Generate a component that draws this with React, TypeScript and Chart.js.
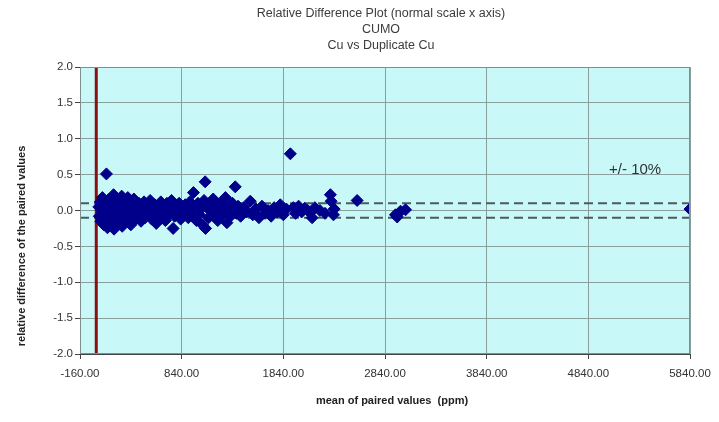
import React, { useEffect, useRef } from "react";
import { Chart, registerables } from "chart.js";

Chart.register(...registerables);

const FONT = "'Liberation Sans', Arial, sans-serif";

const titleLines = [
  "Relative Difference Plot (normal scale x axis)",
  "CUMO",
  "Cu vs Duplicate Cu",
];
const xAxisTitle = "mean of paired values  (ppm)";
const yAxisTitle = "relative difference of the paired values";
const toleranceLabel = "+/- 10%";

const xTickValues = [-160, 840, 1840, 2840, 3840, 4840, 5840];
const yTickValues = [-2, -1.5, -1, -0.5, 0, 0.5, 1, 1.5, 2];
const tolerance = 0.1;

// mean of the two assays for each pair (ppm)
const meanValues = [
  25, 30, 40, 45, 55, 60, 70, 75, 85, 90, 100, 105, 110, 120, 125, 135, 140, 150,
  160, 170, 175, 185, 190, 200, 210, 215, 225, 235, 240, 250, 255, 265, 275, 280,
  290, 300, 310, 320, 330, 340, 350, 360, 370, 380, 395,
  410, 420, 440, 455, 470, 480, 500, 515, 530, 545, 560, 575, 590, 605, 620, 635,
  650, 665, 680, 695, 710, 725, 740, 756, 770, 785, 800, 815, 830, 845, 860, 875,
  890, 905, 920, 940, 956, 970, 985,
  1000, 1015, 1030, 1045, 1060, 1071, 1075, 1090, 1105, 1120, 1135, 1150, 1165,
  1180, 1195, 1210, 1225, 1240, 1255, 1270, 1285, 1300, 1320, 1340, 1367, 1380, 1395,
  1420, 1450, 1480, 1515, 1540, 1570, 1600, 1630, 1660, 1690, 1720, 1750, 1780,
  1810, 1840, 1870, 1909, 1938, 1960, 1990, 2020, 2050, 2080, 2106, 2123,
  2150, 2200, 2250, 2303, 2310, 2333, 2340, 2566, 2943, 2960, 2993, 3042, 5840,
];

// (original - duplicate) / mean for each pair
const relativeDiffs = [
  0.05, -0.08, 0.12, -0.15, 0.0, 0.18, -0.05, -0.2, 0.08, -0.12, 0.51, 0.02, -0.24, 0.15, -0.08, 0.05, -0.18, 0.1,
  -0.02, 0.22, -0.26, 0.06, -0.12, 0.16, -0.04, -0.2, 0.1, 0.0, -0.14, 0.2, -0.22, 0.04, -0.08, 0.14,
  -0.16, 0.02, 0.18, -0.1, 0.08, -0.2, 0.12, -0.04, 0.16, -0.12, 0.06,
  -0.06, 0.1, -0.15, 0.02, 0.12, -0.1, 0.06, -0.04, 0.14, -0.12, 0.0, 0.08, -0.18, 0.04, -0.08, 0.12,
  -0.02, 0.06, -0.14, 0.1, -0.06, 0.02, 0.14, -0.25, -0.08, 0.06, -0.02, 0.1, -0.12, 0.04, -0.06, 0.08,
  0.0, -0.1, 0.12, -0.04, 0.25, 0.06, -0.14,
  0.1, -0.06, 0.02, -0.2, 0.14, 0.4, -0.25, 0.04, -0.1, 0.08, -0.02, 0.16, -0.08,
  0.06, -0.14, 0.0, 0.1, -0.06, 0.04, 0.18, -0.17, 0.02, -0.08, 0.1, 0.33, -0.04, 0.06,
  -0.08, 0.04, -0.02, 0.13, -0.06, 0.02, -0.1, 0.06, -0.04, 0.0, -0.08, 0.04, -0.02,
  0.08, -0.06, 0.02, 0.79, 0.04, -0.04, 0.06, -0.02, 0.03, 0.0, -0.03, -0.1,
  0.04, 0.0, -0.04, 0.22, 0.13, -0.06, 0.02, 0.14, -0.06, -0.09, -0.01, 0.01, 0.02,
];

const plotBackground = {
  id: "plotBackground",
  beforeDraw(chart: any) {
    const { ctx, chartArea: a } = chart;
    ctx.save();
    ctx.fillStyle = "#c8f8f8";
    ctx.fillRect(a.left, a.top, a.right - a.left, a.bottom - a.top);
    ctx.restore();
  },
  afterDraw(chart: any) {
    const { ctx, chartArea: a } = chart;
    ctx.save();
    ctx.strokeStyle = "#7f8f8f";
    ctx.lineWidth = 1;
    ctx.strokeRect(a.left + 0.5, a.top + 0.5, a.right - a.left - 1, a.bottom - a.top - 1);
    ctx.restore();
  },
};

const captions = {
  id: "captions",
  afterDraw(chart: any) {
    const { ctx, scales } = chart;
    ctx.save();
    ctx.fillStyle = "#3c3c3c";
    ctx.textAlign = "center";
    ctx.textBaseline = "middle";
    ctx.font = `12.5px ${FONT}`;
    titleLines.forEach((line, i) => ctx.fillText(line, 381, 14 + i * 16));

    ctx.fillStyle = "#222";
    ctx.font = `bold 11px ${FONT}`;
    ctx.fillText(xAxisTitle, 392, 401);

    ctx.save();
    ctx.translate(22, 246);
    ctx.rotate(-Math.PI / 2);
    ctx.fillText(yAxisTitle, 0, 0);
    ctx.restore();

    ctx.fillStyle = "#333";
    ctx.font = `15px ${FONT}`;
    ctx.fillText(
      toleranceLabel,
      scales.x.getPixelForValue(5300),
      scales.y.getPixelForValue(0.56)
    );
    ctx.restore();
  },
};

export default function App() {
  const canvasRef = useRef<HTMLCanvasElement | null>(null);

  useEffect(() => {
    if (!canvasRef.current) return;
    const points = meanValues.map((x, i) => ({ x, y: relativeDiffs[i] }));
    const xMin = xTickValues[0];
    const xMax = xTickValues[xTickValues.length - 1];

    const chart = new Chart(canvasRef.current, {
      type: "scatter",
      data: {
        datasets: [
          {
            label: "pairs",
            data: points,
            order: 0,
            pointStyle: "rectRot",
            pointRadius: 6,
            backgroundColor: "#00008b",
            borderColor: "#00008b",
            borderWidth: 1,
          },
          {
            label: "+10%",
            type: "line",
            data: [
              { x: xMin, y: tolerance },
              { x: xMax, y: tolerance },
            ],
            order: 1,
            borderColor: "#4d5a5a",
            borderWidth: 2,
            borderDash: [9, 5],
            pointRadius: 0,
          },
          {
            label: "-10%",
            type: "line",
            data: [
              { x: xMin, y: -tolerance },
              { x: xMax, y: -tolerance },
            ],
            order: 2,
            borderColor: "#4d5a5a",
            borderWidth: 2,
            borderDash: [9, 5],
            pointRadius: 0,
          },
          {
            label: "zero",
            type: "line",
            data: [
              { x: 0, y: yTickValues[0] },
              { x: 0, y: yTickValues[yTickValues.length - 1] },
            ],
            order: 3,
            borderColor: "#8b1010",
            borderWidth: 3,
            pointRadius: 0,
          },
        ],
      },
      options: {
        animation: false,
        responsive: false,
        layout: { padding: { top: 67, right: 29, left: 0, bottom: 0 } },
        plugins: {
          legend: { display: false },
          tooltip: { enabled: false },
          title: { display: false },
        },
        scales: {
          x: {
            type: "linear",
            min: xMin,
            max: xMax,
            afterBuildTicks: (scale: any) => {
              scale.ticks = xTickValues.map((value) => ({ value }));
            },
            afterFit: (scale: any) => {
              scale.height = 68;
            },
            ticks: {
              callback: (v: any) => Number(v).toFixed(2),
              font: { family: FONT, size: 11.5 },
              color: "#333",
              padding: 8,
              maxRotation: 0,
              autoSkip: false,
            },
            grid: { color: "#8a9e9e", tickColor: "#444", tickLength: 5, lineWidth: 1 },
            border: { color: "#444", width: 1 },
          },
          y: {
            type: "linear",
            min: yTickValues[0],
            max: yTickValues[yTickValues.length - 1],
            afterBuildTicks: (scale: any) => {
              scale.ticks = yTickValues.map((value) => ({ value }));
            },
            afterFit: (scale: any) => {
              scale.width = 80;
            },
            ticks: {
              callback: (v: any) => Number(v).toFixed(1),
              font: { family: FONT, size: 11.5 },
              color: "#333",
              padding: 2,
            },
            grid: { color: "#8a9e9e", tickColor: "#444", tickLength: 5, lineWidth: 1 },
            border: { color: "#444", width: 1 },
          },
        },
      },
      plugins: [plotBackground, captions],
    });
    return () => chart.destroy();
  }, []);

  return (
    <div style={{ position: "fixed", left: 0, top: 0, width: 719, height: 422, background: "#fff" }}>
      <canvas ref={canvasRef} width={719} height={422} style={{ width: 719, height: 422 }} />
    </div>
  );
}
